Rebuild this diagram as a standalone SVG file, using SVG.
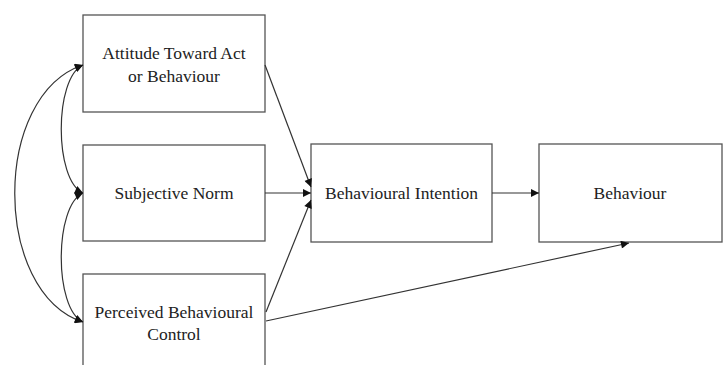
<svg xmlns="http://www.w3.org/2000/svg" width="726" height="365" viewBox="0 0 726 365">
<style>
.box{fill:#fff;stroke:#555;stroke-width:1.3}
.t{font-size:17.5px;fill:#222;text-anchor:middle}
.c{fill:none;stroke:#333;stroke-width:1.2}
</style>
<defs>
<marker id="ah" viewBox="0 0 10 10" refX="10" refY="5" markerWidth="9" markerHeight="8" markerUnits="userSpaceOnUse" orient="auto-start-reverse">
<path d="M0,0 L10,5 L0,10 z" fill="#111"/>
</marker>
</defs>
<rect width="726" height="365" fill="#fff"/>
<g font-family="Liberation Serif, Times New Roman, serif">
<g id="attitude"><rect class="box" x="83" y="15" width="182" height="97"/><text class="t" x="174" y="59">Attitude Toward Act</text><text class="t" x="174" y="82">or Behaviour</text></g>
<g id="norm"><rect class="box" x="83" y="145" width="182" height="96"/><text class="t" x="174" y="199">Subjective Norm</text></g>
<g id="control"><rect class="box" x="83" y="274" width="182" height="100"/><text class="t" x="174" y="318">Perceived Behavioural</text><text class="t" x="174" y="340">Control</text></g>
<g id="intention"><rect class="box" x="311" y="144" width="181" height="98"/><text class="t" x="401.5" y="199">Behavioural Intention</text></g>
<g id="behaviour"><rect class="box" x="539" y="144" width="183" height="98"/><text class="t" x="630" y="199">Behaviour</text></g>
</g>
<g id="connectors">
<path class="c" d="M265,65 L311,187" marker-end="url(#ah)"/>
<path class="c" d="M265,193 L311,193" marker-end="url(#ah)"/>
<path class="c" d="M266,312 L311,200" marker-end="url(#ah)"/>
<path class="c" d="M266,321 L629,243" marker-end="url(#ah)"/>
<path class="c" d="M492,193 L539,193" marker-end="url(#ah)"/>
<path class="c" d="M83,65 C54,78 54,180 83,193" marker-start="url(#ah)" marker-end="url(#ah)"/>
<path class="c" d="M83,193 C54,206 54,309 83,322" marker-start="url(#ah)" marker-end="url(#ah)"/>
<path class="c" d="M83,65 C-8,95 -8,292 83,322" marker-start="url(#ah)" marker-end="url(#ah)"/>
</g>
</svg>
